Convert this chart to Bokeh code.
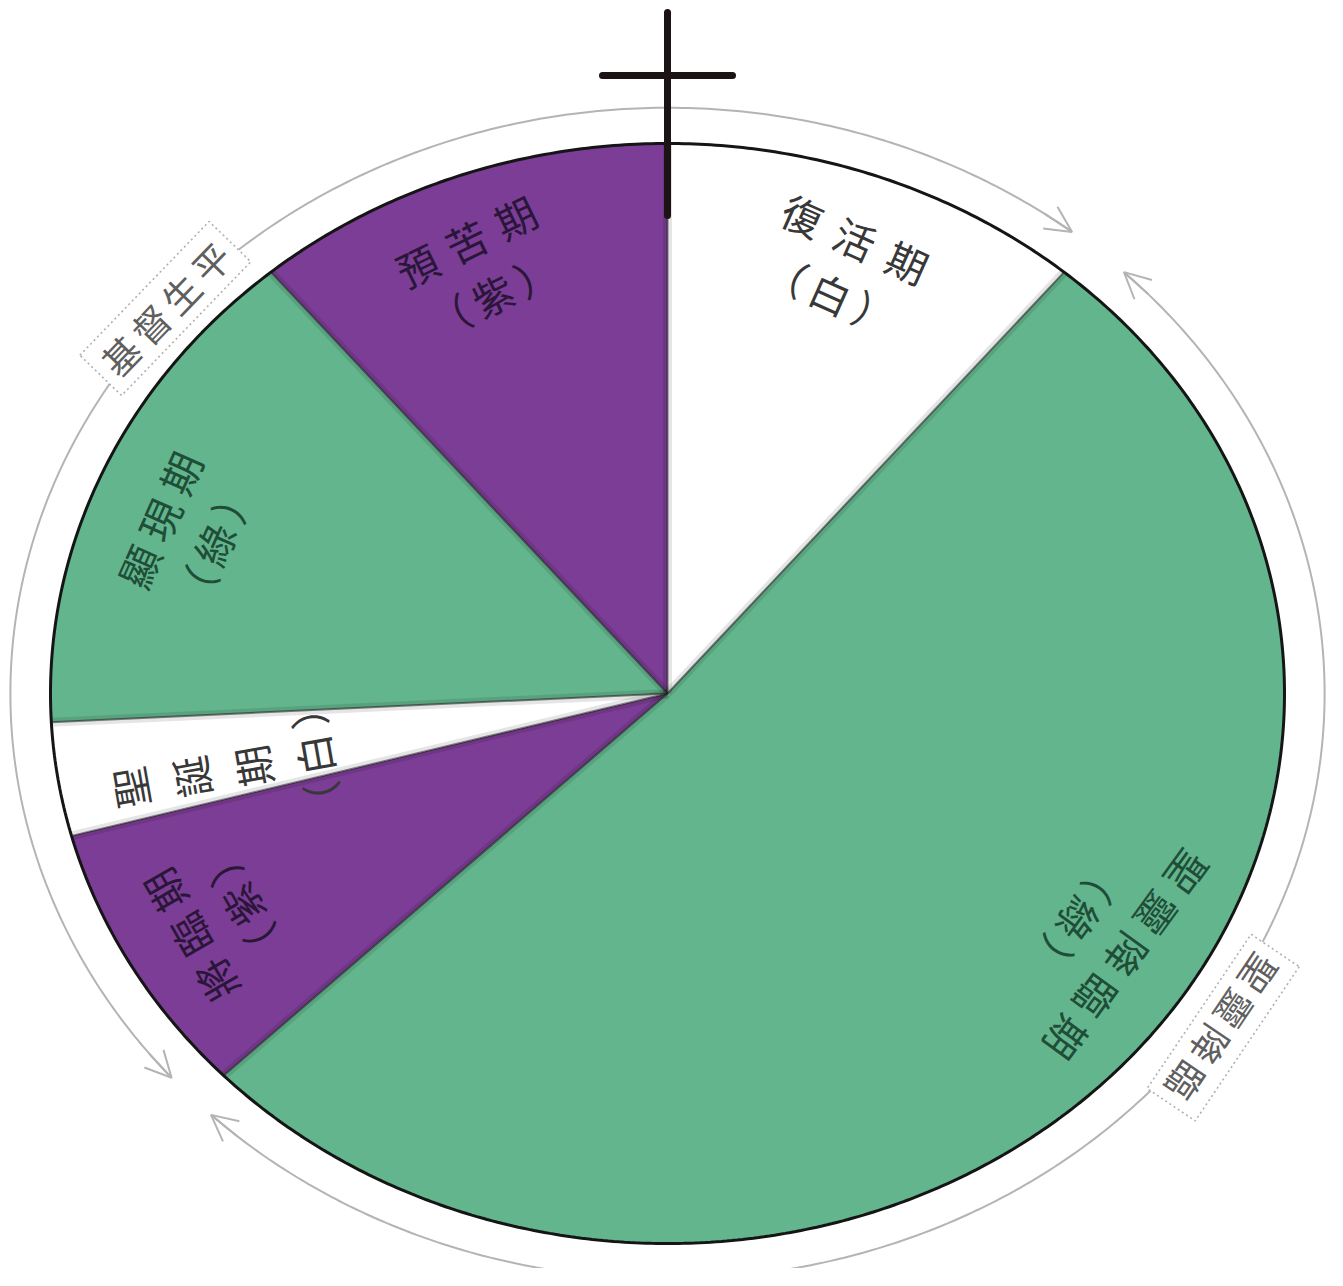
import numpy as np
from bokeh.plotting import figure
from bokeh.models import Range1d, ColumnDataSource, Arrow, OpenHead
from bokeh.core.properties import value
from bokeh.embed import file_html
from bokeh.resources import INLINE

# ---------------- data ----------------
seasons = ["復活期", "聖靈降臨期", "將臨期", "聖誕期", "顯現期", "預苦期"]
colour_names = ["白", "綠", "紫", "白", "綠", "紫"]
spans = [40, 186, 29, 12, 53, 40]          # share of the year, degrees, clockwise from 12 o'clock
group_labels = ["基督生平", "聖靈降臨"]
group_members = [[2, 3, 4, 5, 0], [1]]     # seasons covered by each outer arrow

# ---------------- styles ----------------
GREEN = "#63b58d"
PURPLE = "#7c3d96"
fills = ["#ffffff", GREEN, PURPLE, "#ffffff", GREEN, PURPLE]
text_cols = ["#383838", "#1f4d37", "#2a1638", "#383838", "#1f4d37", "#2a1638"]
FONT = "Noto Sans CJK TC"

# layout (normalised ellipse coordinates: pie radius = 1)
CX, CY, RX, RY = 667, 693, 617, 550        # picture pixels of the pie
W, H = 1327, 1268
x0, x1 = (0 - CX) / RX, (W - CX) / RX
y1, y0 = (CY - 0) / RY, (CY - H) / RY
RING = 1.065

label_r = [0.829, 0.835, 0.841, 0.737, 0.834, 0.833]
label_t = [69.9, -32.2, 209.4, 191.1, 159.3, 111.5]
label_rot = [-24, -126, 120, 100, 66, 26]
label_sep = ["\u2004\u200a", "\u2005", "\u2005", "", "\u2005", "\u2004"]

p = figure(width=W, height=H, x_range=Range1d(x0, x1), y_range=Range1d(y0, y1),
           x_axis_type=None, y_axis_type=None, output_backend="svg",
           toolbar_location=None, min_border=0)
p.grid.visible = False
p.outline_line_color = None
p.background_fill_color = "white"
p.border_fill_color = "white"

# ---------------- slices ----------------
bounds = 90 - np.concatenate([[0], np.cumsum(spans)])
xs, ys = [], []
for i in range(len(spans)):
    t = np.radians(np.linspace(bounds[i], bounds[i + 1], 160))
    xs.append(np.concatenate([[0], np.cos(t), [0]]))
    ys.append(np.concatenate([[0], np.sin(t), [0]]))
p.patches(xs, ys, fill_color=fills, line_color=None)

# soft shadow / separator lines at the slice boundaries
bx = [[0, np.cos(np.radians(b))] for b in bounds[:-1]]
by = [[0, np.sin(np.radians(b))] for b in bounds[:-1]]
p.multi_line(bx, by, line_color="#000000", line_alpha=0.10, line_width=9)
p.multi_line(bx, by, line_color="#1e1e1e", line_alpha=0.55, line_width=2)

# outline of the pie
tt = np.radians(np.linspace(0, 360, 721))
p.line(np.cos(tt), np.sin(tt), line_color="#151515", line_width=3)

# ---------------- outer arrows ----------------
GREY = "#b4b4b4"
for g, members in enumerate(group_members):
    if g == 0:
        a_from = bounds[1] + 2          # end of 復活期 side
        a_to = bounds[2] + 360 - 3      # start of 將臨期 side (counter-clockwise)
    else:
        a_from = bounds[1] - 4
        a_to = bounds[2] + 2            # clockwise down to the bottom-left
    t = np.radians(np.linspace(a_from, a_to, 300))
    p.line(RING * np.cos(t), RING * np.sin(t), line_color=GREY, line_width=2)
    for end, d in ((a_from, 1 if a_to > a_from else -1), (a_to, -1 if a_to > a_from else 1)):
        s = np.radians(end + 3 * d)
        e = np.radians(end)
        p.add_layout(Arrow(end=OpenHead(size=26, line_color=GREY, line_width=2),
                           x_start=RING * np.cos(s), y_start=RING * np.sin(s),
                           x_end=RING * np.cos(e), y_end=RING * np.sin(e),
                           line_color=GREY, line_width=2))

# dotted boxes on the ring
box_t = [139.3, -34.0]
box_r = [1.008, 1.02]
box_rot = [46, -124]
bsrc = ColumnDataSource(dict(
    x=[RING * r * np.cos(np.radians(t)) for r, t in zip(box_r, box_t)],
    y=[RING * r * np.sin(np.radians(t)) for r, t in zip(box_r, box_t)],
    a=[np.radians(a) for a in box_rot],
    txt=["\u2006".join(list(s)) for s in group_labels],
))
p.rect("x", "y", width=186, height=58, width_units="screen", height_units="screen",
       angle="a", source=bsrc, fill_color="white", line_color="#b0b0b0",
       line_width=1.6, line_dash="2 3")
p.text("x", "y", text="txt", angle="a", source=bsrc, text_font=value(FONT),
       text_font_size="37px", text_color="#5f5f5f", text_align="center",
       text_baseline="middle")

# ---------------- slice labels ----------------
for i, name in enumerate(seasons):
    colour = "（\u2006" + colour_names[i] + "\u2006）"
    if name == "聖誕期":
        txt = "\n".join(list(name) + [colour])
        lh = 1.04
    else:
        txt = label_sep[i].join(list(name)) + "\n" + colour
        lh = 1.0
    src = ColumnDataSource(dict(
        x=[label_r[i] * np.cos(np.radians(label_t[i]))],
        y=[label_r[i] * np.sin(np.radians(label_t[i]))],
        t=[txt], a=[np.radians(label_rot[i])]))
    p.text("x", "y", text="t", angle="a", source=src, text_font=value(FONT),
           text_font_size="41px", text_color=text_cols[i], text_align="center",
           text_baseline="middle", text_line_height=lh)

# ---------------- the cross ----------------
p.line([0, 0], [(CY - 12) / RY, (CY - 215) / RY], line_color="#1c1414",
       line_width=7, line_cap="round")
p.line([-65 / RX, 65 / RX], [(CY - 75) / RY] * 2, line_color="#1c1414",
       line_width=7, line_cap="round")

open("out.html", "w").write(file_html(p, INLINE))
